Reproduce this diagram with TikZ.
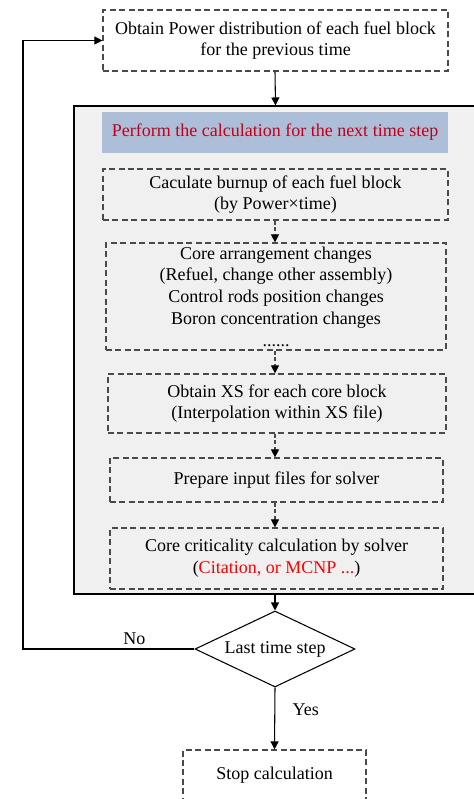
\documentclass[tikz,border=0pt]{standalone}
\usepackage{fontspec}
\setmainfont{Liberation Serif}
\usetikzlibrary{arrows.meta,shapes.geometric}
\definecolor{panelgray}{HTML}{F0F0F0}
\definecolor{headblue}{HTML}{ADBFD8}
\definecolor{headred}{HTML}{C0001A}
\definecolor{dashgray}{HTML}{4A4A4A}
\tikzset{
  txt/.style={align=center, inner sep=0pt, font=\fontsize{13.5}{16.3}\selectfont},
  blk/.style={txt, draw=dashgray, dash pattern=on 4.5pt off 2.6pt, line width=0.9pt},
  flow/.style={line width=0.8pt, -{Triangle[length=6pt,width=6pt]}},
  dflow/.style={flow, draw=dashgray, dash pattern=on 3pt off 2pt, -{Triangle[length=6pt,width=6pt,color=black]}}
}

\begin{document}
\begin{tikzpicture}[x=0.75pt,y=-0.75pt]
        \clip (0,0) rectangle (474,799);

        % outer panel for one time step
        \node[draw, fill=panelgray, line width=0.8pt, minimum width=304.5pt, minimum height=366pt, inner sep=0pt] (stage) at (277,350) {};

        \node[blk, fill=white, minimum width=258.75pt, minimum height=45.75pt] (prev) at (275.5,40.5) {Obtain Power distribution of each fuel block\\for the previous time};
        \node[txt, fill=headblue, text=headred, minimum width=259.5pt, minimum height=30.75pt] (head) at (275,132.5) {Perform the calculation for the next time step};
        \node[blk, minimum width=258.75pt, minimum height=38.25pt] (burnup) at (275.5,194.5) {Caculate burnup of each fuel block\\(by Power×time)};
        \node[blk, minimum width=255pt, minimum height=80.25pt] (arrange) at (276,296.5) {Core arrangement changes\\(Refuel, change other assembly)\\Control rods position changes\\Boron concentration changes\\......};
        \node[blk, minimum width=253.5pt, minimum height=44.25pt] (xs) at (277,403.5) {Obtain XS for each core block\\(Interpolation within XS file)};
        \node[blk, minimum width=249.75pt, minimum height=33pt] (input) at (276.5,480) {Prepare input files for solver};
        \node[blk, minimum width=249.75pt, minimum height=45.75pt] (solver) at (276.5,558.5) {Core criticality calculation by solver\\(\textcolor{red}{Citation, or MCNP ...})};

        \node[txt, draw, line width=0.8pt, shape=diamond, aspect=2.1, minimum width=120pt, minimum height=57pt] (last) at (275,649) {Last time step};
        \node[blk, minimum width=137.25pt, minimum height=37.5pt] (stop) at (274.5,775) {Stop calculation};
        \coordinate (loop) at (23,649);

        \draw[flow] (prev.south -| last.north) -- (prev.south |- stage.north);
        \draw[dflow] (burnup.south -| last.north) -- (last.north |- arrange.north);
        \draw[dflow] (arrange.south -| last.north) -- (last.north |- xs.north);
        \draw[dflow] (xs.south -| last.north) -- (last.north |- input.north);
        \draw[dflow] (input.south -| last.north) -- (last.north |- solver.north);
        \draw[flow] (last.north |- stage.south) -- (last.north);
        \draw[flow] (last.south) -- node[txt, right, pos=0.36, xshift=13pt]{Yes} (stop.north);
        \draw[flow] (last.west) -- node[txt, above, pos=0.35, yshift=3pt]{No} (loop) |- (prev.west);
    \end{tikzpicture}
\end{document}
